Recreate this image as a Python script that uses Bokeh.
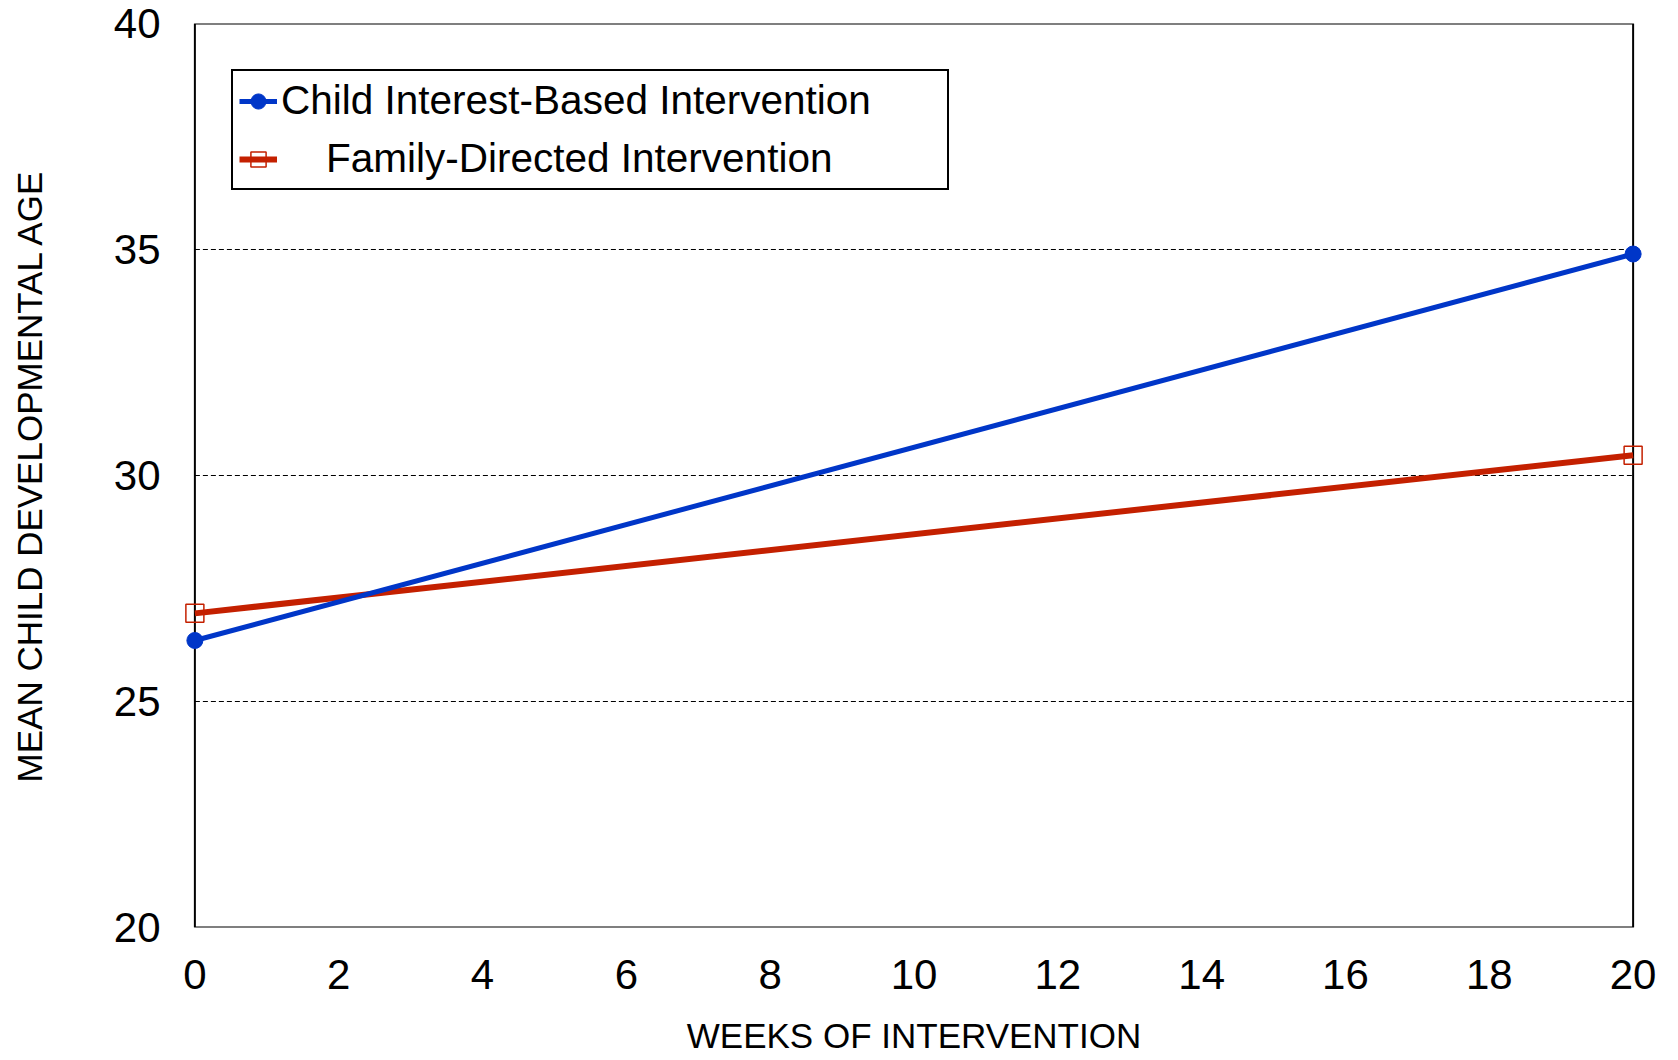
from bokeh.plotting import figure
from bokeh.models import Range1d, Legend, LegendItem, FixedTicker
from bokeh.embed import file_html
from bokeh.resources import INLINE

weeks = [0, 20]
child_interest = [26.35, 34.9]
family_directed = [26.95, 30.45]
x_ticks = [0, 2, 4, 6, 8, 10, 12, 14, 16, 18, 20]
y_ticks = [20, 25, 30, 35, 40]
x_limits = (0, 20)
y_limits = (20, 40)
label_child = "Child Interest-Based Intervention"
label_family = "\u00a0\u00a0\u00a0\u00a0Family-Directed Intervention"

FONT = "Liberation Sans"
BLUE = "#0036C8"
RED = "#C42000"

# x range padded slightly so end markers are not clipped; frame box drawn at the true limits
pad = 0.2
p = figure(width=1670, height=1060, output_backend="svg", toolbar_location=None,
           x_range=Range1d(x_limits[0] - pad, x_limits[1] + pad), y_range=Range1d(*y_limits),
           min_border_left=180, min_border_top=23, min_border_right=23, min_border_bottom=133)

p.outline_line_color = None

for ax in (p.xaxis[0], p.yaxis[0]):
    ax.axis_line_color = None
    ax.major_tick_line_color = None
    ax.minor_tick_line_color = None
    ax.major_tick_out = 0
    ax.major_tick_in = 0
    ax.major_label_text_font = FONT
    ax.major_label_text_font_size = "42px"
    ax.major_label_text_color = "black"
    ax.major_label_text_line_height = 1.0
    ax.axis_label_text_font = FONT
    ax.axis_label_text_font_size = "35px"
    ax.axis_label_text_font_style = "normal"
    ax.axis_label_text_color = "black"
    ax.axis_label_text_line_height = 1.0

p.xaxis.major_label_standoff = 32
p.yaxis.major_label_standoff = 20
p.xaxis.ticker = FixedTicker(ticks=x_ticks)
p.yaxis.ticker = FixedTicker(ticks=y_ticks)
p.xaxis.axis_label = "WEEKS OF INTERVENTION"
p.yaxis.axis_label = "MEAN CHILD DEVELOPMENTAL AGE"
p.xaxis.axis_label_standoff = 24
p.yaxis.axis_label_standoff = 62

p.xgrid.grid_line_color = None
p.ygrid.grid_line_color = None

inner = [t for t in y_ticks if y_limits[0] < t < y_limits[1]]
p.segment(x0=[x_limits[0]] * len(inner), x1=[x_limits[1]] * len(inner), y0=inner, y1=inner,
          line_color="black", line_width=1, line_dash="5 3")
p.quad(left=[x_limits[0]], right=[x_limits[1]], bottom=[y_limits[0]], top=[y_limits[1]],
       fill_color=None, line_color="black", line_width=2)

sq = p.scatter(weeks, family_directed, marker="square", size=18, fill_color=None,
               line_color=RED, line_width=1.5)
rl = p.line(weeks, family_directed, line_color=RED, line_width=6)
bl = p.line(weeks, child_interest, line_color=BLUE, line_width=5)
bc = p.scatter(weeks, child_interest, marker="circle", size=16, fill_color=BLUE,
               line_color=BLUE)

legend = Legend(items=[LegendItem(label=label_child, renderers=[bl, bc]),
                       LegendItem(label=label_family, renderers=[sq, rl])],
                location=(51, 737))
legend.border_line_color = "black"
legend.border_line_width = 2
legend.border_line_alpha = 1
legend.background_fill_color = "white"
legend.background_fill_alpha = 1
legend.label_text_font = FONT
legend.label_text_font_size = "40.5px"
legend.label_text_color = "black"
legend.glyph_width = 38
legend.glyph_height = 46
legend.label_height = 46
legend.label_width = 660
legend.label_standoff = 4
legend.spacing = 11
legend.padding = 6
legend.margin = 0
p.add_layout(legend, "center")

open("out.html", "w").write(file_html(p, INLINE))
